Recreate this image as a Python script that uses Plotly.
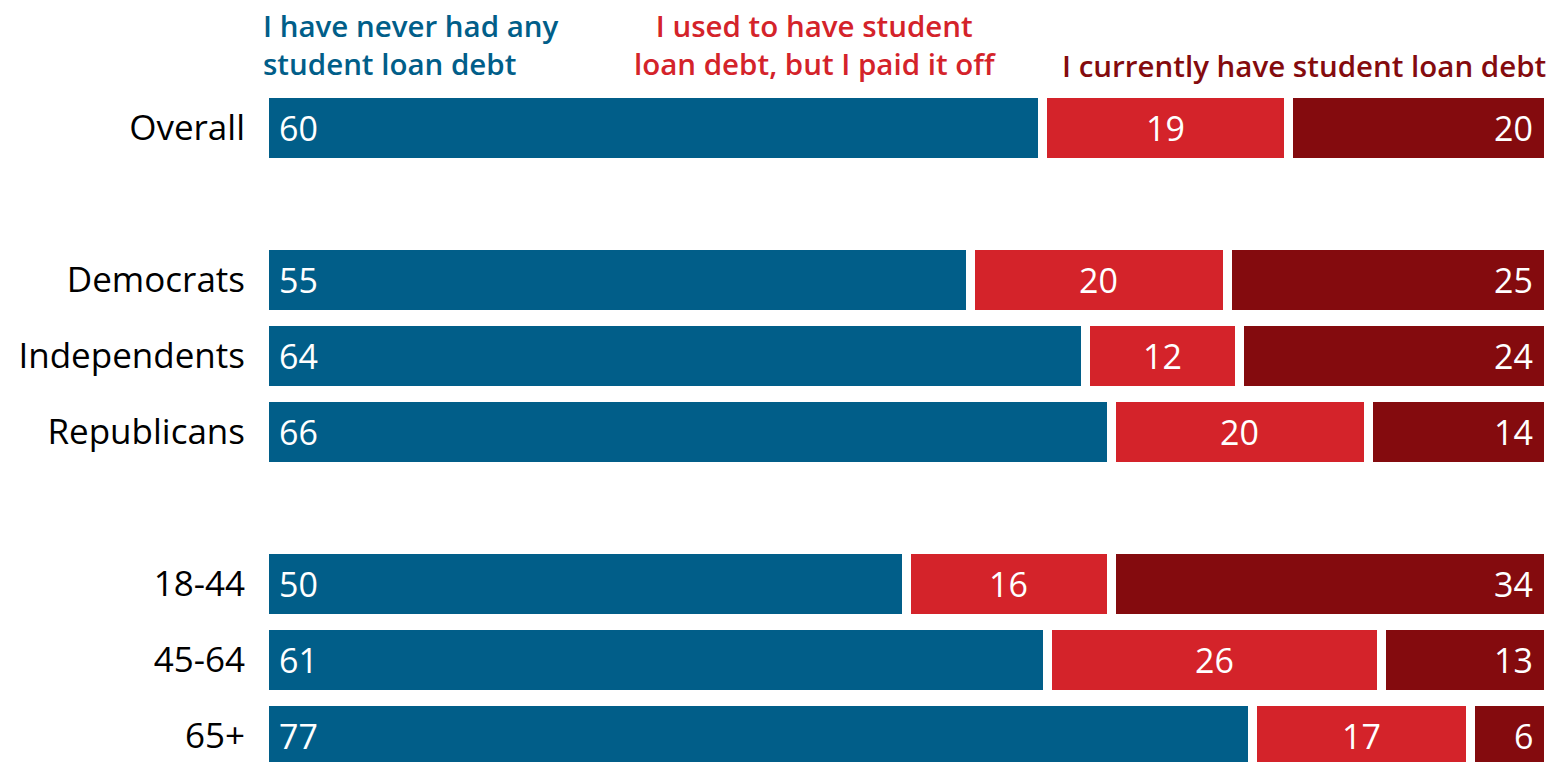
import plotly.graph_objects as go

# Survey results: share of adults by student loan status
groups = ["Overall", "", "Democrats", "Independents", "Republicans", "", "18-44", "45-64", "65+"]
never_had = [60, None, 55, 64, 66, None, 50, 61, 77]
paid_off = [19, None, 20, 12, 20, None, 16, 26, 17]
currently_have = [20, None, 25, 24, 14, None, 34, 13, 6]

series_names = [
    "I have never had any<br>student loan debt",
    "I used to have student<br>loan debt, but I paid it off",
    "I currently have student loan debt",
]
colors = ["#015E89", "#D4232A", "#840B0E"]
FONT = "Open Sans"

rows = list(range(len(groups)))
series = [never_had, paid_off, currently_have]

fig = go.Figure()
for name, vals, col in zip(series_names, series, colors):
    fig.add_trace(go.Bar(
        y=rows, x=vals, orientation="h", name=name,
        marker=dict(color=col, line=dict(color="white", width=9)),
        width=0.908, hoverinfo="x+y",
    ))

# Value labels: first segment at the left, middle centred, last at the right
annotations = []
for i, g in enumerate(groups):
    if never_had[i] is None:
        continue
    vals = [s[i] for s in series]
    total = sum(vals)
    cum = [0]
    for v in vals:
        cum.append(cum[-1] + v / total * 100)
    annotations.append(dict(x=cum[0], y=i, text=str(vals[0]), xanchor="left", xshift=13))
    annotations.append(dict(x=(cum[1] + cum[2]) / 2, y=i, text=str(vals[1]), xanchor="center"))
    annotations.append(dict(x=cum[3], y=i, text=str(vals[2]), xanchor="right", xshift=-13))
for a in annotations:
    a.update(xref="x", yref="y", showarrow=False, yanchor="middle",
             font=dict(family=FONT, size=34, color="white"))

# Series headings above the bars
headings = [
    dict(x=-0.002, xanchor="left", align="left", y=1.067),
    dict(x=0.429, xanchor="center", align="center", y=1.067),
    dict(x=1.0, xanchor="right", align="right", y=1.037),
]
for name, col, h in zip(series_names, colors, headings):
    annotations.append(dict(
        xref="paper", yref="paper", showarrow=False, yanchor="middle",
        text=name, font=dict(family=FONT, size=29.5, color=col, weight=600), **h,
    ))

fig.update_layout(
    barmode="stack", barnorm="percent",
    width=1554, height=762,
    margin=dict(l=264, r=6, t=90, b=0),
    paper_bgcolor="white", plot_bgcolor="white",
    showlegend=False,
    annotations=annotations,
    font=dict(family=FONT),
)
fig.update_xaxes(range=[0, 100], visible=False, fixedrange=True)
fig.update_yaxes(
    range=[8.342, -0.5], tickvals=rows, ticktext=groups,
    showgrid=False, zeroline=False, showline=False, ticks="",
    ticklabelstandoff=18,
    tickfont=dict(family=FONT, size=35, color="black"), fixedrange=True,
)

fig.write_html("out.html")
